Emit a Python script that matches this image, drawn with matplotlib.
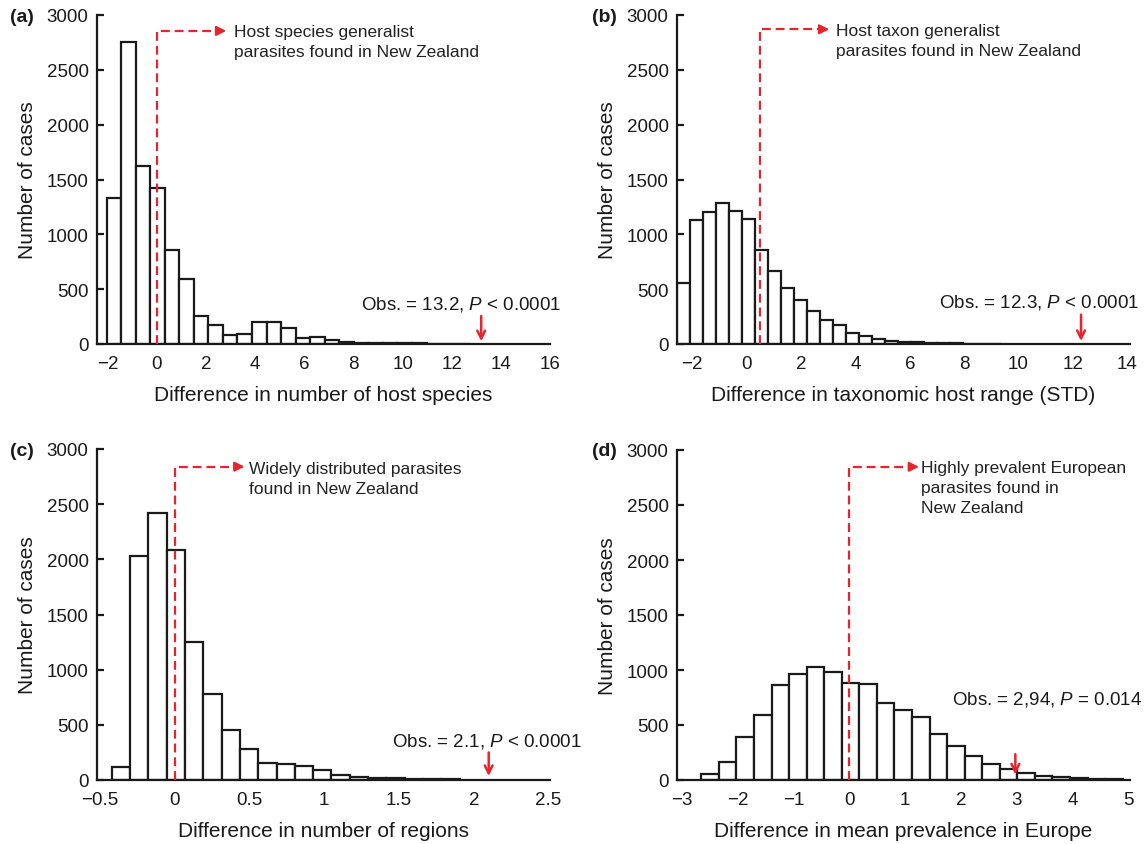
import numpy as np
import matplotlib
matplotlib.use('Agg')
import matplotlib.pyplot as plt

plt.rcParams['font.family'] = ['Liberation Sans', 'DejaVu Sans']
plt.rcParams['mathtext.fontset'] = 'custom'
plt.rcParams['mathtext.rm'] = 'Liberation Sans'
plt.rcParams['mathtext.it'] = 'Liberation Sans:italic'

RED = '#e8232b'

# (a) difference in number of host species
a_start, a_width = -2.05, 0.592
a_counts = [1330, 2753, 1624, 1427, 859, 592, 255, 173, 85, 91, 203, 197, 149,
            55, 61, 34, 21, 12, 8, 6, 5, 7, 4, 3, 3]
# (b) difference in taxonomic host range (STD)
b_start, b_width = -2.56, 0.478
b_counts = [553, 1129, 1208, 1287, 1211, 1138, 859, 668, 510, 404, 304, 222,
            176, 98, 70, 44, 28, 21, 14, 10, 7, 5, 4, 3, 2]
# (c) difference in number of regions
c_start, c_width = -0.4215, 0.1225
c_counts = [120, 2033, 2417, 2087, 1248, 779, 455, 280, 150, 145, 128, 92, 45,
            30, 20, 15, 10, 8, 5]
# (d) difference in mean prevalence in Europe
d_start, d_width = -2.646, 0.314
d_counts = [55, 165, 390, 590, 862, 965, 1029, 986, 886, 871, 704, 632, 575,
            415, 310, 215, 145, 100, 60, 40, 28, 15, 10, 5]

panels = [
    dict(tag='(a)', start=a_start, width=a_width, counts=a_counts,
         xlim=(-2.44, 16.0), xticks=np.arange(-2, 17, 2),
         xlabel='Difference in number of host species',
         line_x=0.0, line_top=2855, arrow_end=2.6, text_x=3.13, text_top=2915,
         note='Host species generalist\nparasites found in New Zealand',
         obs='Obs. = 13.2, $P$ < 0.0001', obs_xy=(12.37, 365),
         obs_arrow=(13.2, 255, 25)),
    dict(tag='(b)', start=b_start, width=b_width, counts=b_counts,
         xlim=(-2.56, 14.1), xticks=np.arange(-2, 15, 2),
         xlabel='Difference in taxonomic host range (STD)',
         line_x=0.48, line_top=2870, arrow_end=2.84, text_x=3.3, text_top=2925,
         note='Host taxon generalist\nparasites found in New Zealand',
         obs='Obs. = 12.3, $P$ < 0.0001', obs_xy=(10.75, 383),
         obs_arrow=(12.3, 268, 27)),
    dict(tag='(c)', start=c_start, width=c_width, counts=c_counts,
         xlim=(-0.52, 2.51), xticks=np.arange(-0.5, 2.6, 0.5),
         xlabel='Difference in number of regions',
         line_x=0.0, line_top=2840, arrow_end=0.43, text_x=0.5, text_top=2895,
         note='Widely distributed parasites\nfound in New Zealand',
         obs='Obs. = 2.1, $P$ < 0.0001', obs_xy=(2.09, 362),
         obs_arrow=(2.1, 250, 36)),
    dict(tag='(d)', start=d_start, width=d_width, counts=d_counts,
         xlim=(-3.08, 5.02), xticks=np.arange(-3, 6, 1),
         xlabel='Difference in mean prevalence in Europe',
         line_x=0.0, line_top=2847, arrow_end=1.15, text_x=1.28, text_top=2910,
         note='Highly prevalent European\nparasites found in\nNew Zealand',
         obs='Obs. = 2,94, $P$ = 0.014', obs_xy=(3.53, 741),
         obs_arrow=(2.97, 235, 50)),
]

fig = plt.figure(figsize=(11.48, 8.45), dpi=100)
W, H = 1148, 845
boxes = [(97, 550, 16, 345), (677, 1130, 16, 345),
         (97, 550, 450, 781), (677, 1130, 451, 781)]
tag_pos = [(10, 18), (592, 18), (10, 452), (592, 452)]

for p, (l, r, t, b), (tx, ty) in zip(panels, boxes, tag_pos):
    ax = fig.add_axes([l / W, 1 - b / H, (r - l) / W, (b - t) / H])
    counts = np.array(p['counts'])
    lefts = p['start'] + p['width'] * np.arange(len(counts))
    ax.bar(lefts, counts, width=p['width'], align='edge', color='white',
           edgecolor='#1a1a1a', linewidth=1.6, zorder=2)

    ax.set_xlim(*p['xlim'])
    ax.set_ylim(0, 3000)
    ax.set_yticks(np.arange(0, 3001, 500))
    ax.set_xticks(p['xticks'])
    ax.set_xticklabels(['{:g}'.format(v).replace('-', '\u2212') for v in p['xticks']])
    for s in ['top', 'right']:
        ax.spines[s].set_visible(False)
    for s in ['left', 'bottom']:
        ax.spines[s].set_linewidth(1.6)
        ax.spines[s].set_color('#1a1a1a')
        ax.spines[s].set_zorder(3)
    ax.tick_params(axis='y', direction='in', length=5, width=1.6, pad=6,
                   labelsize=13.5, colors='#1a1a1a')
    ax.tick_params(axis='x', length=0, pad=8, labelsize=13.5, colors='#1a1a1a')
    ax.set_ylabel('Number of cases', fontsize=15, color='#1a1a1a', labelpad=7)
    ax.set_xlabel(p['xlabel'], fontsize=15, color='#1a1a1a', labelpad=9)

    # dashed threshold line with arrow
    lx, top, end = p['line_x'], p['line_top'], p['arrow_end']
    ax.plot([lx, lx, end], [0, top, top], color=RED, lw=1.6,
            dashes=(4, 2.2), zorder=4, clip_on=False)
    span = p['xlim'][1] - p['xlim'][0]
    ax.annotate('', xy=(end + span * 0.012, top), xytext=(end - span * 0.01, top),
                arrowprops=dict(arrowstyle='-|>', color=RED, lw=1.6,
                                mutation_scale=14, shrinkA=0, shrinkB=0),
                zorder=5)
    ax.text(p['text_x'], p['text_top'], p['note'], fontsize=12.5, va='top',
            ha='left', color='#222222', linespacing=1.42)

    # observed value
    ax.text(p['obs_xy'][0], p['obs_xy'][1], p['obs'], fontsize=13.5,
            ha='center', va='center', color='#1a1a1a', clip_on=False)
    ox, oy0, oy1 = p['obs_arrow']
    ax.annotate('', xy=(ox, oy1), xytext=(ox, oy0),
                arrowprops=dict(arrowstyle='->', color=RED, lw=1.8,
                                mutation_scale=14, shrinkA=0, shrinkB=0))

    fig.text(tx / W, 1 - ty / H, p['tag'], fontsize=14, fontweight='bold',
             va='center', ha='left', color='#1a1a1a')

fig.savefig('out.png', dpi=100)
